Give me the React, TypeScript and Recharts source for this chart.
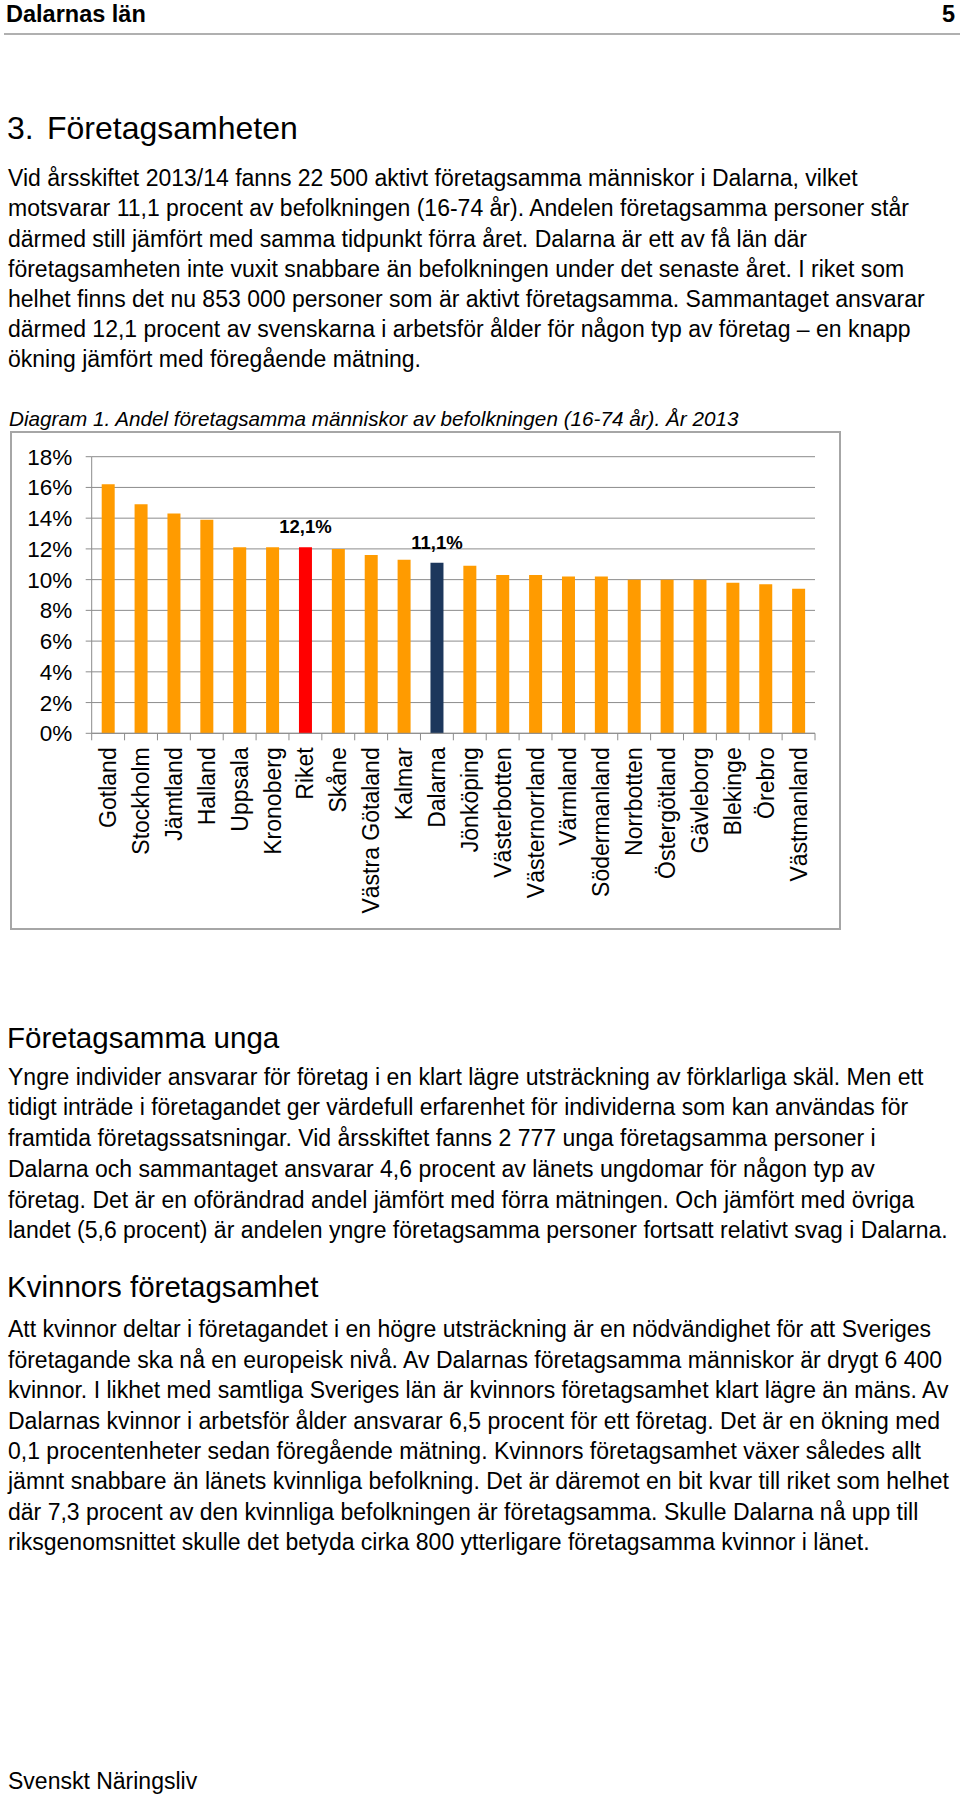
import React from 'react';
import { BarChart, Bar, XAxis, YAxis, CartesianGrid, Cell, LabelList } from 'recharts';

// ---------- data ----------
const categories = [
  'Gotland', 'Stockholm', 'Jämtland', 'Halland', 'Uppsala', 'Kronoberg', 'Riket', 'Skåne',
  'Västra Götaland', 'Kalmar', 'Dalarna', 'Jönköping', 'Västerbotten', 'Västernorrland',
  'Värmland', 'Södermanland', 'Norrbotten', 'Östergötland', 'Gävleborg', 'Blekinge',
  'Örebro', 'Västmanland',
];
const shares = [
  16.2, 14.9, 14.3, 13.9, 12.1, 12.1, 12.1, 12.0, 11.6, 11.3, 11.1, 10.9, 10.3, 10.3,
  10.2, 10.2, 10.0, 10.0, 10.0, 9.8, 9.7, 9.4,
];
const valueLabels: (string | null)[] = [
  null, null, null, null, null, null, '12,1%', null, null, null, '11,1%', null, null, null,
  null, null, null, null, null, null, null, null,
];
const yTicks = [0, 2, 4, 6, 8, 10, 12, 14, 16, 18];

const chartTitle = 'Diagram 1. Andel företagsamma människor av befolkningen (16-74 år). År 2013';

const para1 = [
  'Vid årsskiftet 2013/14 fanns 22 500 aktivt företagsamma människor i Dalarna, vilket',
  'motsvarar 11,1 procent av befolkningen (16-74 år). Andelen företagsamma personer står',
  'därmed still jämfört med samma tidpunkt förra året. Dalarna är ett av få län där',
  'företagsamheten inte vuxit snabbare än befolkningen under det senaste året. I riket som',
  'helhet finns det nu 853 000 personer som är aktivt företagsamma. Sammantaget ansvarar',
  'därmed 12,1 procent av svenskarna i arbetsför ålder för någon typ av företag – en knapp',
  'ökning jämfört med föregående mätning.',
];
const para2 = [
  'Yngre individer ansvarar för företag i en klart lägre utsträckning av förklarliga skäl. Men ett',
  'tidigt inträde i företagandet ger värdefull erfarenhet för individerna som kan användas för',
  'framtida företagssatsningar. Vid årsskiftet fanns 2 777 unga företagsamma personer i',
  'Dalarna och sammantaget ansvarar 4,6 procent av länets ungdomar för någon typ av',
  'företag. Det är en oförändrad andel jämfört med förra mätningen. Och jämfört med övriga',
  'landet (5,6 procent) är andelen yngre företagsamma personer fortsatt relativt svag i Dalarna.',
];
const para3 = [
  'Att kvinnor deltar i företagandet i en högre utsträckning är en nödvändighet för att Sveriges',
  'företagande ska nå en europeisk nivå. Av Dalarnas företagsamma människor är drygt 6 400',
  'kvinnor. I likhet med samtliga Sveriges län är kvinnors företagsamhet klart lägre än mäns. Av',
  'Dalarnas kvinnor i arbetsför ålder ansvarar 6,5 procent för ett företag. Det är en ökning med',
  '0,1 procentenheter sedan föregående mätning. Kvinnors företagsamhet växer således allt',
  'jämnt snabbare än länets kvinnliga befolkning. Det är däremot en bit kvar till riket som helhet',
  'där 7,3 procent av den kvinnliga befolkningen är företagsamma. Skulle Dalarna nå upp till',
  'riksgenomsnittet skulle det betyda cirka 800 ytterligare företagsamma kvinnor i länet.',
];

const data = categories.map((name, i) => ({ name, value: shares[i], label: valueLabels[i] }));

// ---------- style ----------
const FONT = '"Liberation Sans", Arial, Helvetica, sans-serif';
const ORANGE = '#FF9B00';
const RED = '#FF0000';
const NAVY = '#1C375C';
const GRID = '#8c8c8c';

const barColor = (name: string) => (name === 'Riket' ? RED : name === 'Dalarna' ? NAVY : ORANGE);

const CHART_W = 831;
const CHART_H = 499;
const Y_AXIS_W = 81.7;
const RIGHT_M = 26;
const STEP = (CHART_W - Y_AXIS_W - RIGHT_M) / categories.length;

function CategoryTick(props: any) {
  const { x, y, payload, index } = props;
  const half = payload && payload.offset > 0 ? payload.offset : STEP / 2;
  const ly = y + 14;
  return (
    <g>
      <line x1={x - half} y1={y} x2={x - half} y2={y + 7} stroke={GRID} strokeWidth={1} />
      {index === categories.length - 1 ? (
        <line x1={x + half} y1={y} x2={x + half} y2={y + 7} stroke={GRID} strokeWidth={1} />
      ) : null}
      <text
        x={x}
        y={ly}
        transform={`rotate(-90 ${x} ${ly})`}
        textAnchor="end"
        dy="0.35em"
        fontSize={23}
        fontFamily={FONT}
        fill="#000"
      >
        {payload.value}
      </text>
    </g>
  );
}

function Lines({ top, lines, lh }: { top: number; lines: string[]; lh: number }) {
  return (
    <div
      style={{
        position: 'absolute',
        left: 8,
        top,
        fontSize: 23,
        lineHeight: `${lh}px`,
        whiteSpace: 'nowrap',
      }}
    >
      {lines.map((l, i) => (
        <div key={i}>{l}</div>
      ))}
    </div>
  );
}

export default function App() {
  return (
    <div
      style={{
        position: 'absolute',
        left: 0,
        top: 0,
        width: 960,
        height: 1796,
        overflow: 'hidden',
        background: '#fff',
        fontFamily: FONT,
        color: '#000',
      }}
    >
      {/* page header */}
      <div style={{ position: 'absolute', left: 6, top: 0, fontSize: 23.5, lineHeight: '28px', fontWeight: 700 }}>
        Dalarnas län
      </div>
      <div style={{ position: 'absolute', right: 5, top: 0, fontSize: 23.5, lineHeight: '28px', fontWeight: 700 }}>5</div>
      <div style={{ position: 'absolute', left: 4, top: 32.5, width: 956, height: 2, background: '#b0b0b0' }} />

      {/* section heading */}
      <div style={{ position: 'absolute', left: 7, top: 108, fontSize: 32, lineHeight: '40px', whiteSpace: 'nowrap' }}>3.</div>
      <div style={{ position: 'absolute', left: 47, top: 108, fontSize: 32, lineHeight: '40px', whiteSpace: 'nowrap' }}>
        Företagsamheten
      </div>

      <Lines top={163.2} lines={para1} lh={30.2} />

      {/* chart title */}
      <div
        style={{
          position: 'absolute',
          left: 9,
          top: 407.3,
          fontSize: 20.7,
          lineHeight: '24px',
          fontStyle: 'italic',
          whiteSpace: 'nowrap',
        }}
      >
        {chartTitle}
      </div>

      {/* chart */}
      <div style={{ position: 'absolute', left: 10, top: 431, width: CHART_W, height: CHART_H }}>
        <BarChart
          width={CHART_W}
          height={CHART_H}
          data={data}
          margin={{ top: 25.7, right: RIGHT_M, bottom: 0, left: 0 }}
          barSize={13}
          style={{ fontFamily: FONT }}
        >
          <CartesianGrid vertical={false} stroke={GRID} strokeWidth={1} />
          <XAxis
            dataKey="name"
            type="category"
            interval={0}
            height={196.7}
            axisLine={{ stroke: GRID, strokeWidth: 1 }}
            tickLine={false}
            tickSize={0}
            tickMargin={0}
            tick={(p: any) => <CategoryTick {...p} />}
          />
          <YAxis
            type="number"
            domain={[0, 18]}
            ticks={yTicks}
            interval={0}
            width={Y_AXIS_W}
            axisLine={{ stroke: GRID, strokeWidth: 1 }}
            tickLine={{ stroke: GRID, strokeWidth: 1 }}
            tickSize={6}
            tickMargin={13.5}
            tickFormatter={(v: number) => `${v}%`}
            tick={{ fill: '#000', fontSize: 22.5, fontFamily: FONT }}
          />
          <Bar dataKey="value" isAnimationActive={false}>
            {data.map((d) => (
              <Cell key={d.name} fill={barColor(d.name)} />
            ))}
            <LabelList
              dataKey="label"
              position="top"
              offset={14}
              fill="#000"
              fontSize={18.5}
              fontWeight={700}
              fontFamily={FONT}
            />
          </Bar>
        </BarChart>
      </div>
      <div
        style={{
          position: 'absolute',
          left: 10,
          top: 431,
          width: CHART_W,
          height: CHART_H,
          boxSizing: 'border-box',
          border: '2px solid #a6a6a6',
          pointerEvents: 'none',
        }}
      />

      {/* second section */}
      <div style={{ position: 'absolute', left: 7, top: 1019.8, fontSize: 29.5, lineHeight: '36px', whiteSpace: 'nowrap' }}>
        Företagsamma unga
      </div>
      <Lines top={1061.5} lines={para2} lh={30.8} />

      {/* third section */}
      <div style={{ position: 'absolute', left: 7, top: 1268.8, fontSize: 29.5, lineHeight: '36px', whiteSpace: 'nowrap' }}>
        Kvinnors företagsamhet
      </div>
      <Lines top={1314.4} lines={para3} lh={30.4} />

      {/* footer */}
      <div style={{ position: 'absolute', left: 8, top: 1768.4, fontSize: 23, lineHeight: '27px', whiteSpace: 'nowrap' }}>
        Svenskt Näringsliv
      </div>
    </div>
  );
}
